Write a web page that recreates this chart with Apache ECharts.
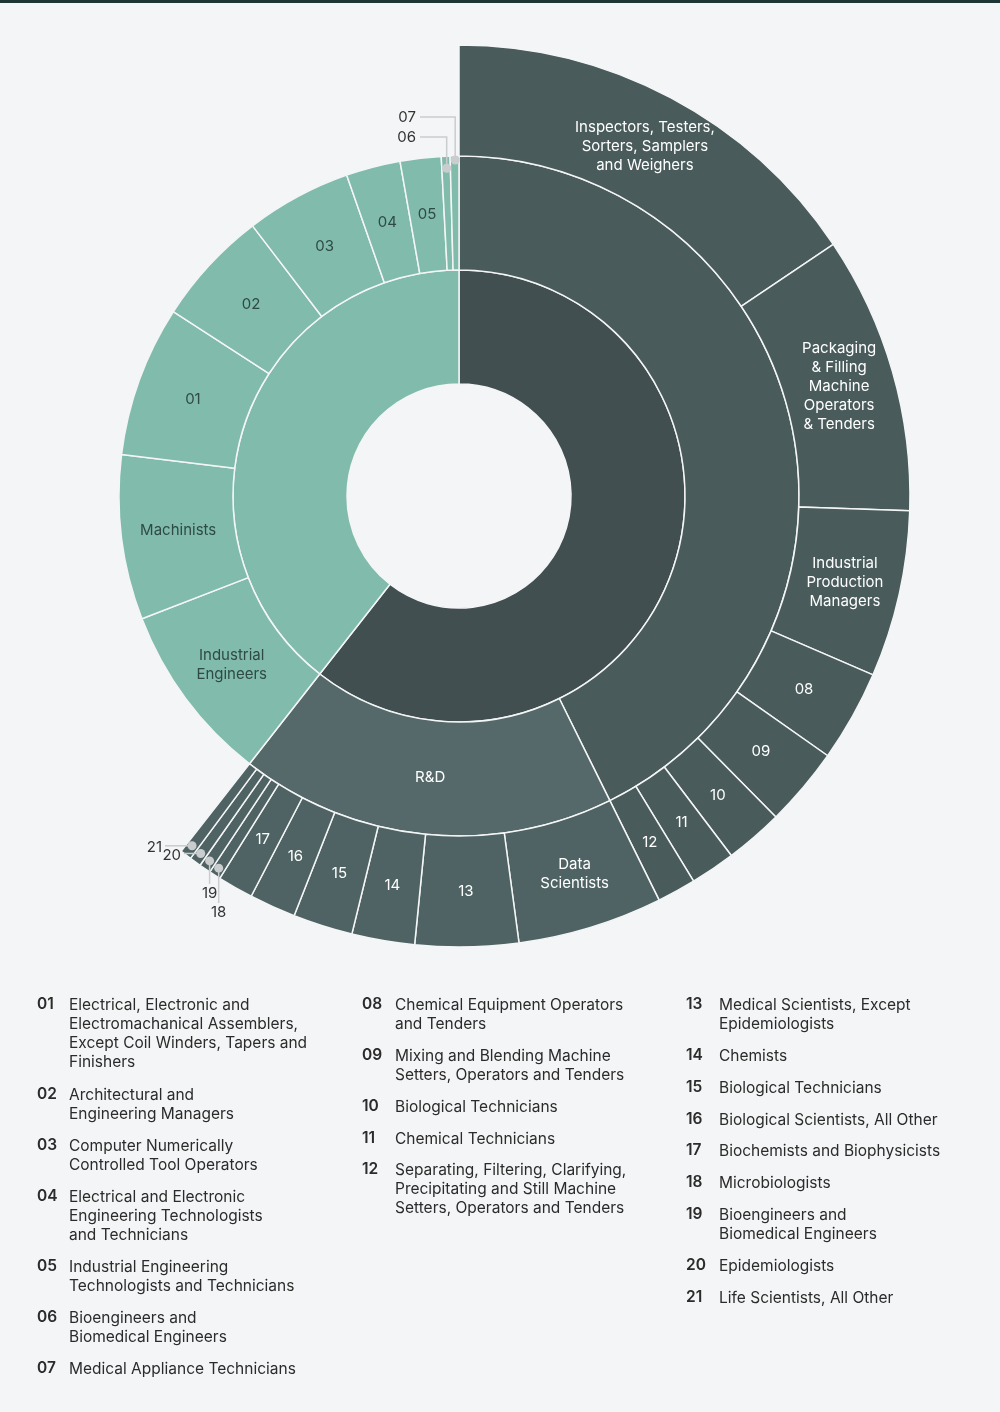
<!DOCTYPE html>
<html>
<head>
<meta charset="utf-8">
<script src="https://cdn.jsdelivr.net/npm/echarts@6/dist/echarts.min.js"></script>
<style>
  html, body { margin: 0; padding: 0; background: #f4f5f6; }
  #main { width: 1000px; height: 1412px; }
</style>
</head>
<body>
<div id="main"></div>
<script>
// values are slice sizes in degrees
let mfg_names = ['Inspectors, Testers,\nSorters, Samplers\nand Weighers', 'Packaging\n& Filling\nMachine\nOperators\n& Tenders',
    'Industrial\nProduction\nManagers', '08', '09', '10', '11', '12'];
let mfg_values = [56.1, 35.8, 21.5, 11.8, 10.2, 7.5, 5.8, 5.0];

let rnd_names = ['Data\nScientists', '13', '14', '15', '16', '17', '18', '19', '20', '21'];
let rnd_values = [18.7, 13.3, 8.1, 7.7, 6.0, 4.6, 1.5, 1.5, 1.5, 1.5];

let med_names = ['Industrial\nEngineers', 'Machinists', '01', '02', '03', '04', '05', '06', '07'];
let med_values = [30.8, 28.2, 25.8, 19.8, 18.1, 9.3, 7.0, 1.5, 1.5];

let small_ones = ['06', '07', '18', '19', '20', '21'];

let legend_col1 = [
    ['01', 'Electrical, Electronic and\nElectromachanical Assemblers,\nExcept Coil Winders, Tapers and\nFinishers'],
    ['02', 'Architectural and\nEngineering Managers'],
    ['03', 'Computer Numerically\nControlled Tool Operators'],
    ['04', 'Electrical and Electronic\nEngineering Technologists\nand Technicians'],
    ['05', 'Industrial Engineering\nTechnologists and Technicians'],
    ['06', 'Bioengineers and\nBiomedical Engineers'],
    ['07', 'Medical Appliance Technicians']
];
let legend_col2 = [
    ['08', 'Chemical Equipment Operators\nand Tenders'],
    ['09', 'Mixing and Blending Machine\nSetters, Operators and Tenders'],
    ['10', 'Biological Technicians'],
    ['11', 'Chemical Technicians'],
    ['12', 'Separating, Filtering, Clarifying,\nPrecipitating and Still Machine\nSetters, Operators and Tenders']
];
let legend_col3 = [
    ['13', 'Medical Scientists, Except\nEpidemiologists'],
    ['14', 'Chemists'],
    ['15', 'Biological Technicians'],
    ['16', 'Biological Scientists, All Other'],
    ['17', 'Biochemists and Biophysicists'],
    ['18', 'Microbiologists'],
    ['19', 'Bioengineers and\nBiomedical Engineers'],
    ['20', 'Epidemiologists'],
    ['21', 'Life Scientists, All Other']
];

const cx = 459, cy = 496;
const FONT = 'Inter, "Noto Sans", sans-serif';

function make_children(names, values, color, textColor) {
    return names.map((n, i) => ({
        name: n,
        value: values[i],
        itemStyle: { color: color },
        label: { show: small_ones.indexOf(n) < 0, color: textColor }
    }));
}

function sum(arr) { return arr.reduce((a, b) => a + b, 0); }

let data = [
    {
        name: 'Biopharma',
        itemStyle: { color: '#414f51' },
        label: { show: false },
        children: [
            {
                name: 'Manufacturing',
                itemStyle: { color: '#4a5b5b' },
                label: { show: false },
                children: make_children(mfg_names, mfg_values, '#4a5b5b', '#ffffff')
            },
            {
                name: 'R&D',
                itemStyle: { color: '#56696a' },
                label: { color: '#ffffff' },
                children: make_children(rnd_names, rnd_values, '#4f6364', '#ffffff')
            }
        ]
    },
    {
        name: 'Medtech',
        itemStyle: { color: '#80bbab' },
        label: { show: false },
        children: make_children(med_names, med_values, '#80bbab', '#2f4a45')
    }
];

// point on the ring for a given clockwise angle from 12 o'clock
function polar(deg, r) {
    let a = deg * Math.PI / 180;
    return [cx + r * Math.sin(a), cy - r * Math.cos(a)];
}

function mid_angle(start, values, idx) {
    let s = start;
    for (let i = 0; i < idx; i++) s += values[i];
    return s + values[idx] / 2;
}

let graphics = [
    { type: 'rect', shape: { x: 0, y: 0, width: 1000, height: 3 }, style: { fill: '#1d3535' } }
];

// labels of the big groups placed like the reference
let big_labels = [
    ['Biopharma', 90, 161, '#ffffff'],
    ['Manufacturing', 90, 278, '#ffffff'],
    ['Medtech', 270, 165, '#2f4a45']
];
big_labels.forEach(b => {
    let p = polar(b[1], b[2]);
    graphics.push({
        type: 'text', x: p[0], y: p[1],
        style: { text: b[0], fill: b[3], font: '15px ' + FONT, align: 'center', verticalAlign: 'middle' }
    });
});

// callouts for the tiny slices
let rnd_start = sum(mfg_values);
let med_start = sum(mfg_values) + sum(rnd_values);
let callouts = [
    { name: '07', ang: mid_angle(med_start, med_values, 8), r: 336, mode: 'v', ly: 117, lx: 420 },
    { name: '06', ang: mid_angle(med_start, med_values, 7), r: 328, mode: 'v', ly: 137, lx: 420 },
    { name: '21', ang: mid_angle(rnd_start, rnd_values, 9), r: 440, mode: 'h', lx: 165 },
    { name: '20', ang: mid_angle(rnd_start, rnd_values, 8), r: 441, mode: 'h', lx: 184 },
    { name: '19', ang: mid_angle(rnd_start, rnd_values, 7), r: 442, mode: 'd', ly: 884 },
    { name: '18', ang: mid_angle(rnd_start, rnd_values, 6), r: 443, mode: 'd', ly: 903 }
];
callouts.forEach(c => {
    let p = polar(c.ang, c.r);
    let pts, tx, ty, align, va;
    if (c.mode === 'v') {
        pts = [p, [p[0], c.ly], [c.lx, c.ly]];
        tx = c.lx - 4; ty = c.ly; align = 'right'; va = 'middle';
    } else if (c.mode === 'h') {
        pts = [p, [c.lx, p[1]]];
        tx = c.lx - 3; ty = p[1] + 2; align = 'right'; va = 'middle';
    } else {
        pts = [p, [p[0], c.ly]];
        tx = p[0]; ty = c.ly + 2; align = 'center'; va = 'top';
    }
    graphics.push({ type: 'polyline', shape: { points: pts }, style: { stroke: '#c9cdcd', lineWidth: 1.5, fill: null }, z: 10 });
    graphics.push({ type: 'circle', shape: { cx: p[0], cy: p[1], r: 4.5 }, style: { fill: '#c9cdcd' }, z: 11 });
    graphics.push({ type: 'text', x: tx, y: ty, style: { text: c.name, fill: '#333', font: '15px ' + FONT, align: align, verticalAlign: va }, z: 11 });
});

// legend columns
const row_y = [
    [1006, 1096, 1147, 1198, 1268, 1319, 1370],
    [1006, 1057, 1108, 1140, 1171],
    [1006, 1057, 1089, 1121, 1152, 1184, 1216, 1267, 1299]
];
const col_x = [[37, 69], [362, 395], [686, 719]];
[legend_col1, legend_col2, legend_col3].forEach((col, ci) => {
    col.forEach((row, ri) => {
        let y = row_y[ci][ri] - 10;
        graphics.push({ type: 'text', x: col_x[ci][0], y: y,
            style: { text: row[0], fill: '#2b2b2b', font: '600 15.5px ' + FONT, verticalAlign: 'top' } });
        graphics.push({ type: 'text', x: col_x[ci][1], y: y,
            style: { text: row[1], fill: '#2b2b2b', font: '15.5px ' + FONT, lineHeight: 19, verticalAlign: 'top' } });
    });
});

var myChart = echarts.init(document.getElementById('main'));
var option = {
    backgroundColor: '#f4f5f6',
    animation: false,
    graphic: { elements: graphics },
    series: [{
        type: 'sunburst',
        center: [cx, cy],
        startAngle: 90,
        sort: null,
        nodeClick: false,
        emphasis: { disabled: true },
        data: data,
        itemStyle: { borderColor: '#f4f5f6', borderWidth: 1.5 },
        label: { rotate: 0, fontSize: 15, lineHeight: 19, fontFamily: FONT, align: 'center' },
        levels: [
            {},
            { r0: 112, r: 226 },
            { r0: 226, r: 340 },
            { r0: 340, r: 451 }
        ]
    }]
};
myChart.setOption(option);
</script>
</body>
</html>
